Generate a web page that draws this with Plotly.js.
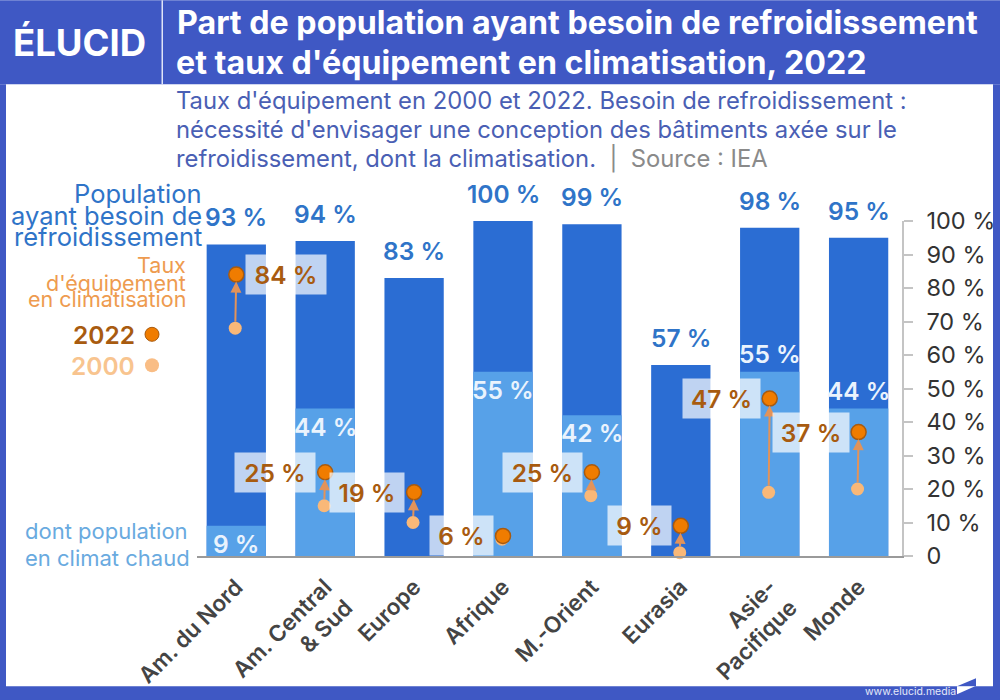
<!DOCTYPE html>
<html><head><meta charset="utf-8">
<script src="https://cdn.plot.ly/plotly-3.0.1.min.js"></script>
<style>html,body{margin:0;padding:0;background:#fff}</style></head>
<body><div id="chart" style="width:1000px;height:700px"></div>
<script>
const categories = ['Am. du Nord','Am. Central<br>& Sud','Europe','Afrique','M.-Orient','Eurasia','Asie-<br>Pacifique','Monde'];
const populationCooling = [93,94,83,100,99,57,98,95];
const populationHot = [9,44,null,55,42,null,55,44];
const equip2022 = [84,25,19,6,25,9,47,37];
const equip2000 = [68,15,10,5,18,1,19,20];
const yTicks = [0,10,20,30,40,50,60,70,80,90,100];

const W=1000,H=700,ML=197,MR=98,MT=220.7,MB=144.3;
const px=x=>(x-ML)/(W-ML-MR), py=y=>1-(y-MT)/(H-MT-MB);
const FONT='Inter, "Open Sans", sans-serif';
const BLUE='#3f58c4',DARK='#2b6dd3',LIGHT='#57a1e8',TXT='#2f74c8',OR='#a85b10';
const idx=categories.map((_,i)=>i);

const hotAbove=[false,false,false,false,false,false,true,true];
const boxSide=[1,-1,-1,-1,-1,-1,-1,-1];
const boxW=[80,80,74,63,79,63,77,76];

const ann=[];
const textPx=(x,y,text,size,color,anchor,extra)=>ann.push(Object.assign({xref:'paper',yref:'paper',x:px(x),y:py(y),text,showarrow:false,
  xanchor:anchor||'left',yanchor:'middle',xshift:0,font:{family:FONT,size,color}},extra||{}));

idx.forEach(i=>{ if(equip2022[i]-equip2000[i]>=2) ann.push({xref:'x',yref:'y',axref:'x',ayref:'y',x:i,y:equip2022[i],ax:i-0.012,ay:equip2000[i],
  text:'',showarrow:true,arrowcolor:'#e2935a',arrowwidth:2,arrowhead:2,arrowsize:1.1,standoff:7,startstandoff:5});});

idx.forEach(i=>{
  ann.push({x:i,y:populationCooling[i],xref:'x',yref:'y',text:populationCooling[i]+' %',showarrow:false,yanchor:'middle',yshift:27,
    font:{family:FONT,size:24.5,color:TXT,weight:600}});
  if(populationHot[i]!==null) ann.push({x:i,y:populationHot[i],xref:'x',yref:'y',text:populationHot[i]+' %',showarrow:false,yanchor:'middle',
    yshift:hotAbove[i]?18:-18,font:{family:FONT,size:24.5,color:'#eaf3fd',weight:600}});
  ann.push({x:i,y:equip2022[i],xref:'x',yref:'y',text:equip2022[i]+' %',showarrow:false,yanchor:'middle',xanchor:'center',
    xshift:boxSide[i]*(10+boxW[i]/2),width:boxW[i],height:39,bgcolor:'rgba(255,255,255,0.7)',borderpad:0,font:{family:FONT,size:24.5,color:OR,weight:600}});
});

[['Population',193],['ayant besoin de',215],['refroidissement',236]].forEach(a=>textPx(204,a[1],a[0],25.5,TXT,'right'));
[['Taux',265],["d'équipement",283],['en climatisation',299]].forEach(a=>textPx(188,a[1],a[0],21.5,'#ee9b4f','right'));
textPx(137,335,'2022',24.5,OR,'right',{font:{family:FONT,size:24.5,color:OR,weight:600}});
textPx(137,366,'2000',24.5,'#f8c48f','right',{font:{family:FONT,size:24.5,color:'#f8c48f',weight:600}});
textPx(190,531,'dont population',22,'#69aadf','right');
textPx(192,558,'en climat chaud',22,'#69aadf','right');
textPx(11,43,'ÉLUCID',36.5,'#fff','left',{font:{family:FONT,size:36.5,color:'#fff',weight:700}});
textPx(174,62,"et taux d'équipement en climatisation, 2022",32.2,'#fff','left',{font:{family:FONT,size:32.2,color:'#fff',weight:700}});
[["Taux d'équipement en 2000 et 2022. Besoin de refroidissement :",100],
 ["nécessité d'envisager une conception des bâtiments axée sur le",129],
 ["refroidissement, dont la climatisation. <span style=\"color:#8a8a8a\"> |  Source : IEA</span>",158]]
  .forEach(a=>textPx(174,a[1],a[0],23.8,'#4a5fb4','left'));
textPx(863,691,'www.elucid.media',10.5,'#e4e8f8','left');

const rect=(x0,y0,x1,y1,c)=>({type:'rect',xref:'paper',yref:'paper',x0:px(x0),x1:px(x1),y0:py(y0),y1:py(y1),fillcolor:c,line:{width:0},layer:'below'});
const poly=(pts,c)=>({type:'path',xref:'paper',yref:'paper',path:'M '+pts.map(p=>px(p[0])+' '+py(p[1])).join(' L ')+' Z',fillcolor:c,line:{width:0}});
const shapes=[
  rect(0,0,1000,84,BLUE),rect(0,84,6,700,BLUE),rect(993,84,1000,700,BLUE),rect(0,686,1000,700,BLUE),
  rect(161.5,0,163,84,'#dfe4f7'),
  {type:'circle',xref:'paper',yref:'paper',x0:px(145),x1:px(159),y0:py(327),y1:py(341),fillcolor:'#f07c00',line:{color:OR,width:1}},
  {type:'circle',xref:'paper',yref:'paper',x0:px(145),x1:px(159),y0:py(358),y1:py(372),fillcolor:'#f9bd85',line:{width:0}},
  poly([[957,686],[976,678],[976,686]],BLUE),
  poly([[957,686],[975,686],[957,694]],'#fff')
];

const data=[
  {type:'bar',x:idx,y:populationCooling,width:0.667,marker:{color:DARK},name:'Population ayant besoin de refroidissement',hoverinfo:'y'},
  {type:'bar',x:idx,y:populationHot,width:0.667,marker:{color:LIGHT},name:'dont population en climat chaud',hoverinfo:'y'},
  {type:'scatter',mode:'markers',x:idx.map(i=>i-0.012),y:equip2000,marker:{size:13,color:'#f9b878'},name:'2000',cliponaxis:false},
  {type:'scatter',mode:'markers',x:idx,y:equip2022,marker:{size:15,color:'#f07c00',line:{color:OR,width:1.5}},name:'2022',cliponaxis:false}
];
const layout={
  width:W,height:H,paper_bgcolor:'#fff',plot_bgcolor:'rgba(0,0,0,0)',showlegend:false,barmode:'overlay',
  margin:{l:ML,r:MR,t:MT,b:MB,pad:0,autoexpand:false},
  title:{text:"Part de population ayant besoin de refroidissement",
    x:0.177,xref:'container',xanchor:'left',y:0.967,yref:'container',yanchor:'middle',font:{family:FONT,size:32.2,color:'#fff',weight:700}},
  xaxis:{range:[-0.442,7.488],tickmode:'array',tickvals:idx,ticktext:categories,tickangle:-45,showgrid:false,zeroline:false,
    showline:true,linecolor:'#9a9a9a',linewidth:2,ticks:'',tickfont:{family:FONT,size:22.5,color:'#444',weight:600},ticklabelstandoff:7},
  yaxis:{range:[0,100],side:'right',tickmode:'array',tickvals:yTicks,ticktext:yTicks.map(v=>v===0?'0':v+' %'),showgrid:false,zeroline:false,
    showline:true,linecolor:'#c4c4c4',linewidth:1.5,ticks:'outside',ticklen:9,tickcolor:'#c4c4c4',tickwidth:1.5,tickfont:{family:FONT,size:23.5,color:'#333'},ticklabelstandoff:9},
  annotations:ann,shapes
};
Plotly.newPlot('chart',data,layout,{displayModeBar:false,responsive:false});
</script></body></html>
